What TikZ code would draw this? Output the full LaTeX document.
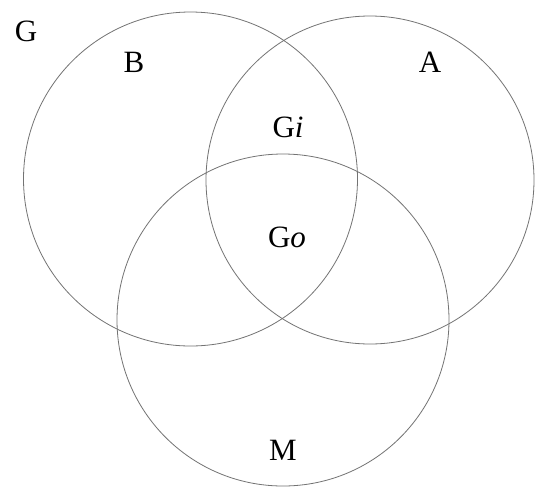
\documentclass[tikz,border=0pt]{standalone}
\usepackage{fontspec}
\setmainfont{Liberation Serif}
\begin{document}
\begin{tikzpicture}[x=1pt,y=-1pt,
  setcircle/.style={circle,draw=black!55,line width=0.8pt,inner sep=0pt},
  lbl/.style={font=\fontsize{31}{36}\selectfont,inner sep=0pt}]
\useasboundingbox[fill=white] (0,0) rectangle (535,488);
\node[setcircle,minimum size=334pt] (Bc) at (190.5,179) {};
\node[setcircle,minimum size=328pt] (Ac) at (370,180) {};
\node[setcircle,minimum size=332pt] (Mc) at (283,320) {};
\node[lbl] (G) at (26,31) {G};
\node[lbl] (B) at (134,62) {B};
\node[lbl] (A) at (430,62) {A};
\node[lbl] (Gi) at (288,127) {G\textit{i}};
\node[lbl] (Go) at (287,237) {G\textit{o}};
\node[lbl] (M) at (283,450) {M};
\end{tikzpicture}
\end{document}
